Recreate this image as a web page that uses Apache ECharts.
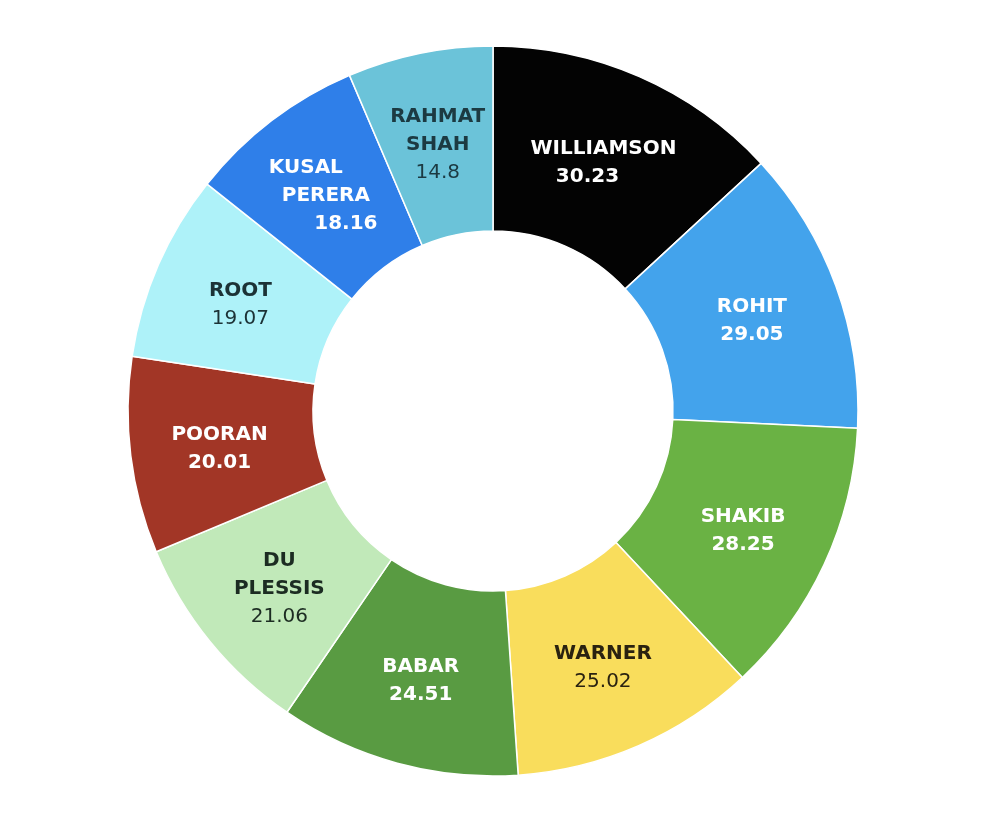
<!DOCTYPE html>
<html>
<head>
<meta charset="utf-8">
<script src="https://cdn.jsdelivr.net/npm/echarts@6/dist/echarts.min.js"></script>
<style>html,body{margin:0;padding:0;background:#fff;}#c{width:992px;height:814px;}</style>
</head>
<body>
<div id="c"></div>
<script>
const names = ['WILLIAMSON', 'ROHIT', 'SHAKIB', 'WARNER', 'BABAR', 'DU\nPLESSIS', 'POORAN', 'ROOT', 'KUSAL\nPERERA', 'RAHMAT\nSHAH'];
const values = [30.23, 29.05, 28.25, 25.02, 24.51, 21.06, 20.01, 19.07, 18.16, 14.8];
const valueLabels = ['30.23', '29.05', '28.25', '25.02', '24.51', '21.06', '20.01', '19.07', '18.16', '14.8'];
const colors = ['#030303', '#43a3ec', '#6ab244', '#f9dd5c', '#599b42', '#c1e9b9', '#a23626', '#aef2f9', '#2f7fe9', '#6bc3d9'];
const textColors = ['#ffffff', '#ffffff', '#ffffff', '#2a2210', '#ffffff', '#1c2c22', '#ffffff', '#1c3236', '#ffffff', '#1c3a42'];
// horizontal shift (px) of each label line: first lines, last (value) line
const firstShift = [0, 0, 0, 0, 0, 0, 0, 0, -20, 0];
const valueShift = [-16, 0, 0, 0, 0, 0, 0, 0, 20, 0];

function pad(shift) {
  return shift < 0 ? [0, -2 * shift, 0, 0] : [0, 0, 0, 2 * shift];
}

const chart = echarts.init(document.getElementById('c'));
const data = values.map((v, i) => {
  const light = textColors[i] !== '#ffffff';
  const parts = names[i].split('\n');
  return {
    name: names[i],
    value: v,
    itemStyle: { color: colors[i] },
    label: {
      formatter: () => parts.map((s, k) => (k === 0 && parts.length > 1 ? '{f|' : '{n|') + s + '}').join('\n') + '\n{v|' + valueLabels[i] + '}',
      rich: {
        f: { fontFamily: 'DejaVu Sans', fontWeight: 'bold', fontSize: 20, color: textColors[i], lineHeight: 28, padding: pad(firstShift[i]) },
        n: { fontFamily: 'DejaVu Sans', fontWeight: 'bold', fontSize: 20, color: textColors[i], lineHeight: 28 },
        v: { fontFamily: 'DejaVu Sans', fontWeight: light ? 'normal' : 'bold', fontSize: 20, color: textColors[i], lineHeight: 28, padding: pad(valueShift[i]) }
      }
    }
  };
});

chart.setOption({
  backgroundColor: '#ffffff',
  animation: false,
  series: [{
    type: 'pie',
    center: [493, 411],
    radius: [180, 365],
    startAngle: 90,
    clockwise: true,
    avoidLabelOverlap: false,
    itemStyle: { borderColor: '#ffffff', borderWidth: 1.5 },
    label: { show: true, position: 'inside', align: 'center', offset: [0, 4] },
    labelLine: { show: false },
    data: data
  }]
});
</script>
</body>
</html>
